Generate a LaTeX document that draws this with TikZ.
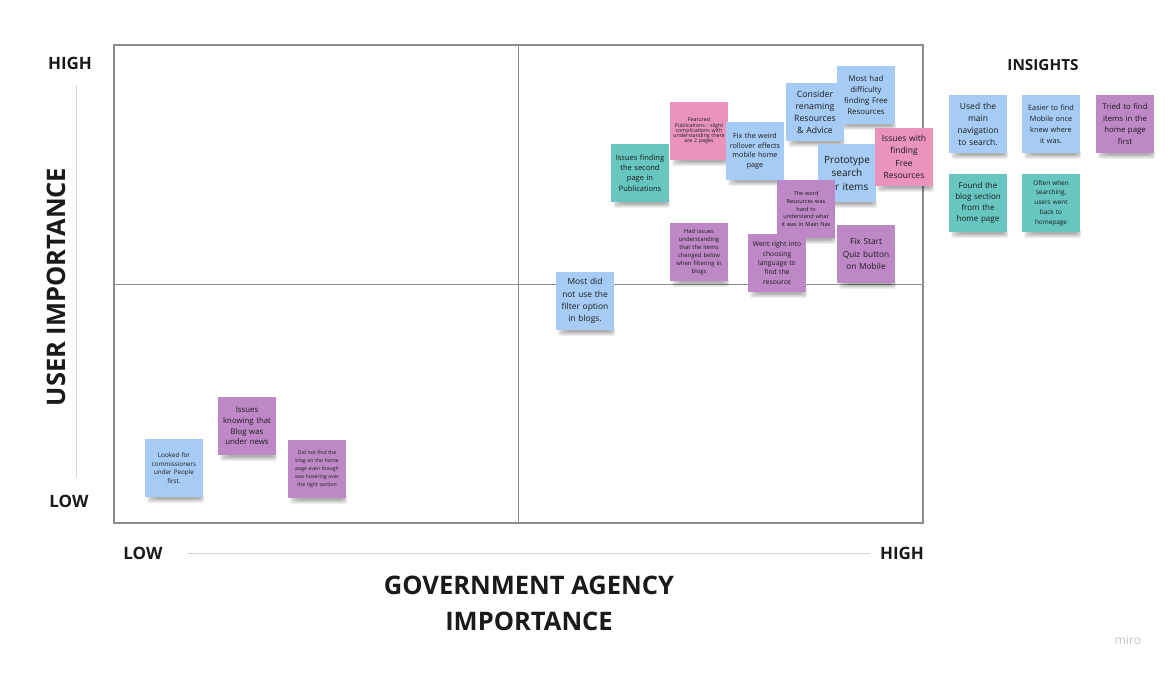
\documentclass[tikz,border=0pt]{standalone}
\usepackage{fontspec}
\setmainfont{Open Sans}
\newfontfamily\headfont{Open Sans}
\definecolor{nblue}{HTML}{A6CCF5}
\definecolor{nteal}{HTML}{67C6C0}
\definecolor{npink}{HTML}{EA94BB}
\definecolor{npurple}{HTML}{BE88C7}
\definecolor{framegrey}{HTML}{8C8C8C}
\definecolor{axisgrey}{HTML}{D4D4D4}
\definecolor{ink}{HTML}{1A1A1A}
\definecolor{mirogrey}{HTML}{C5C5CF}
\newcommand\fs[2]{\fontsize{#1}{#2}\selectfont}
\tikzset{
  note/.style={minimum width=58pt, minimum height=58pt, inner sep=0pt, align=center, text=ink, text width=56pt},
  head/.style={text=ink, inner sep=0pt},
  shade layer/.style={fill=black, opacity=0.06, rounded corners=2pt},
}
\newcommand\sticky[7]{%
  \fill[shade layer] (#2+2,#3+55) rectangle (#2+59,#3+64);
  \fill[shade layer] (#2+3,#3+55) rectangle (#2+58.5,#3+63);
  \fill[shade layer] (#2+4,#3+56) rectangle (#2+58,#3+62);
  \fill[shade layer] (#2+6,#3+56) rectangle (#2+57,#3+61);
  \fill[shade layer] (#2+8,#3+57) rectangle (#2+56,#3+60.5);
  \fill[shade layer] (#2+11,#3+57) rectangle (#2+54,#3+60);
  \node[note, fill=#4, font=\fs{#5}{#6}] (#1) at (#2+29,#3+29) {#7};
}
\begin{document}
\begin{tikzpicture}[x=1pt,y=-1pt]
\fill[white] (0,0) rectangle (1174,674);
% frame and quadrants
\draw[framegrey, line width=1.2pt] (114,45) rectangle (923,523);
\draw[framegrey, line width=1pt] (518,45) -- (518,523);
\draw[framegrey, line width=1pt] (114,284) -- (923,284);
% axes
\coordinate (ytop) at (76,85);
\coordinate (ybot) at (76,477);
\draw[axisgrey, line width=1pt] (ytop) -- (ybot);
\coordinate (xleft) at (188,553);
\coordinate (xright) at (870,553);
\draw[axisgrey, line width=1pt] (xleft) -- (xright);
\node[head, font=\headfont\bfseries\fs{17}{17}] (yhigh) at (70,63) {HIGH};
\node[head, font=\headfont\bfseries\fs{17}{17}] (ylow) at (69,501) {LOW};
\node[head, font=\headfont\bfseries\fs{25.5}{25.5}, rotate=90] (ylab) at (56,287) {USER IMPORTANCE};
\node[head, font=\headfont\bfseries\fs{17}{17}] (xlow) at (143,553) {LOW};
\node[head, font=\headfont\bfseries\fs{17}{17}] (xhigh) at (902,553) {HIGH};
\node[head, font=\headfont\bfseries\fs{25.5}{25.5}] (xlab1) at (529,585) {GOVERNMENT AGENCY};
\node[head, font=\headfont\bfseries\fs{25.5}{25.5}] (xlab2) at (529,621) {IMPORTANCE};
\node[head, font=\headfont\bfseries\fs{15.3}{15.3}] (ins) at (1043,65) {INSIGHTS};
\node[text=mirogrey, font=\fs{12}{12}] (miro) at (1128,640) {miro};
% quadrant notes
\sticky{n1}{611}{144}{nteal}{7.5}{10.3}{Issues finding\\the second\\page in\\Publications}
\sticky{n2}{670}{102}{npink}{5.3}{5.3}{Featured\\Publications - slight\\complications with\\understanding there\\are 2 pages}
\sticky{n3}{726}{122}{nblue}{7.2}{9.6}{Fix the weird\\rollover effects\\mobile home\\page}
\sticky{n5}{837}{66}{nblue}{7.8}{11}{Most had\\difficulty\\finding Free\\Resources}
\sticky{n4}{786}{83}{nblue}{8.7}{12}{Consider\\renaming\\Resources\\\& Advice}
\sticky{n6}{818}{144}{nblue}{10}{13.5}{Prototype\\search\\for items}
\sticky{n7}{875}{128}{npink}{8.5}{12.5}{Issues with\\finding\\Free\\Resources}
\sticky{n8}{777}{180}{npurple}{5.6}{7.8}{The word\\Resources was\\hard to\\understand what\\it was in Main Nav}
\sticky{n9}{670}{223}{npurple}{5.9}{8}{Had issues\\understanding\\that the items\\changed below\\when filtering in\\blogs}
\sticky{n10}{748}{234}{npurple}{6.8}{9.3}{Went right into\\choosing\\language to\\find the\\resource}
\sticky{n11}{837}{225}{npurple}{8.3}{12.3}{Fix Start\\Quiz button\\on Mobile}
\sticky{n12}{556}{272}{nblue}{8.4}{12.3}{Most did\\not use the\\filter option\\in blogs.}
% insights
\sticky{i1}{949}{95}{nblue}{8.5}{12}{Used the\\main\\navigation\\to search.}
\sticky{i2}{1022}{95}{nblue}{7.3}{11}{Easier to find\\Mobile once\\knew where\\it was.}
\sticky{i3}{1096}{95}{npurple}{7.8}{11.5}{Tried to find\\items in the\\home page\\first}
\sticky{i4}{949}{174}{nteal}{8}{11}{Found the\\blog section\\from the\\home page}
\sticky{i5}{1022}{174}{nteal}{6.4}{9.7}{Often when\\searching,\\users went\\back to\\homepage}
% low quadrant
\sticky{l1}{145}{439}{nblue}{6.3}{8.7}{Looked for\\commissioners\\under People\\first.}
\sticky{l2}{218}{397}{npurple}{7.8}{10.8}{Issues\\knowing that\\Blog was\\under news}
\sticky{l3}{288}{440}{npurple}{5.1}{8}{Did not find the\\blog on the home\\page even though\\was hovering over\\the right section}
\end{tikzpicture}
\end{document}
